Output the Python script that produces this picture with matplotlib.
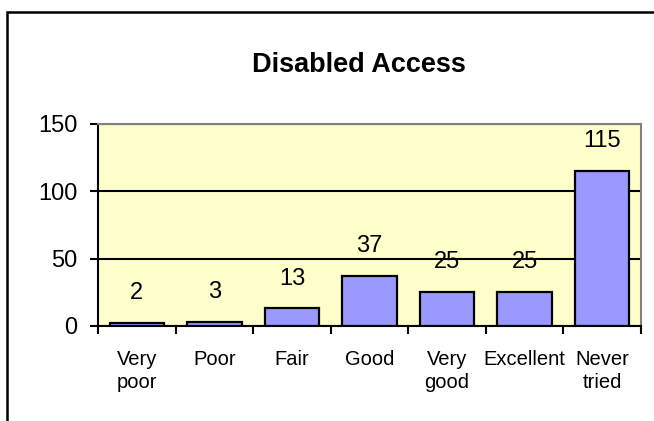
import matplotlib.pyplot as plt
from matplotlib.patches import Rectangle

# Survey results for disabled access
categories = ["Very\npoor", "Poor", "Fair", "Good", "Very\ngood", "Excellent", "Never\ntried"]
counts = [2, 3, 13, 37, 25, 25, 115]
y_ticks = [0, 50, 100, 150]

plt.rcParams['font.family'] = ['Liberation Sans', 'DejaVu Sans']

fig = plt.figure(figsize=(6.54, 4.21), dpi=100)
fig.patch.set_facecolor('white')

# outer chart border (cut off at right and bottom in the original)
fig.add_artist(Rectangle((7 / 654, -0.1), 1.2, 1 - 12 / 421 + 0.1,
                         transform=fig.transFigure, fill=False,
                         edgecolor='black', linewidth=1.8))

ax = fig.add_axes([98 / 654, 95 / 421, (641 - 98) / 654, (326 - 123.5) / 421])
ax.set_facecolor('#FFFFCC')

x = list(range(len(categories)))
ax.bar(x, counts, width=0.7, color='#9999FF', edgecolor='black', linewidth=1.6, zorder=3)

for xi, v in zip(x, counts):
    ax.annotate(str(v), (xi, v), xytext=(0, 21.5), textcoords='offset points',
                ha='center', va='center', fontsize=17, zorder=4)

ax.set_xlim(-0.5, len(categories) - 0.5)
ax.set_ylim(0, 150)
ax.set_yticks(y_ticks)
ax.set_yticklabels([str(t) for t in y_ticks], fontsize=17)
ax.tick_params(axis='y', direction='out', length=6, width=1.5, pad=9)

ax.set_xticks(x)
ax.set_xticklabels(categories, fontsize=14.5, linespacing=1.3)
ax.tick_params(axis='x', which='major', length=0, pad=17)
ax.set_xticks([i - 0.5 for i in range(len(categories) + 1)], minor=True)
ax.tick_params(axis='x', which='minor', direction='out', length=6, width=1.5)

ax.grid(axis='y', color='black', linewidth=1.5, zorder=1)
ax.set_axisbelow(True)

for side in ['left', 'bottom']:
    ax.spines[side].set_color('black')
    ax.spines[side].set_linewidth(1.5)
for side in ['top', 'right']:
    ax.spines[side].set_color('#808080')
    ax.spines[side].set_linewidth(1.5)

fig.text(359 / 654, 1 - 64.5 / 421, 'Disabled Access', ha='center', va='center',
         fontsize=19.5, fontweight='bold')

fig.savefig('out.png', dpi=100)
